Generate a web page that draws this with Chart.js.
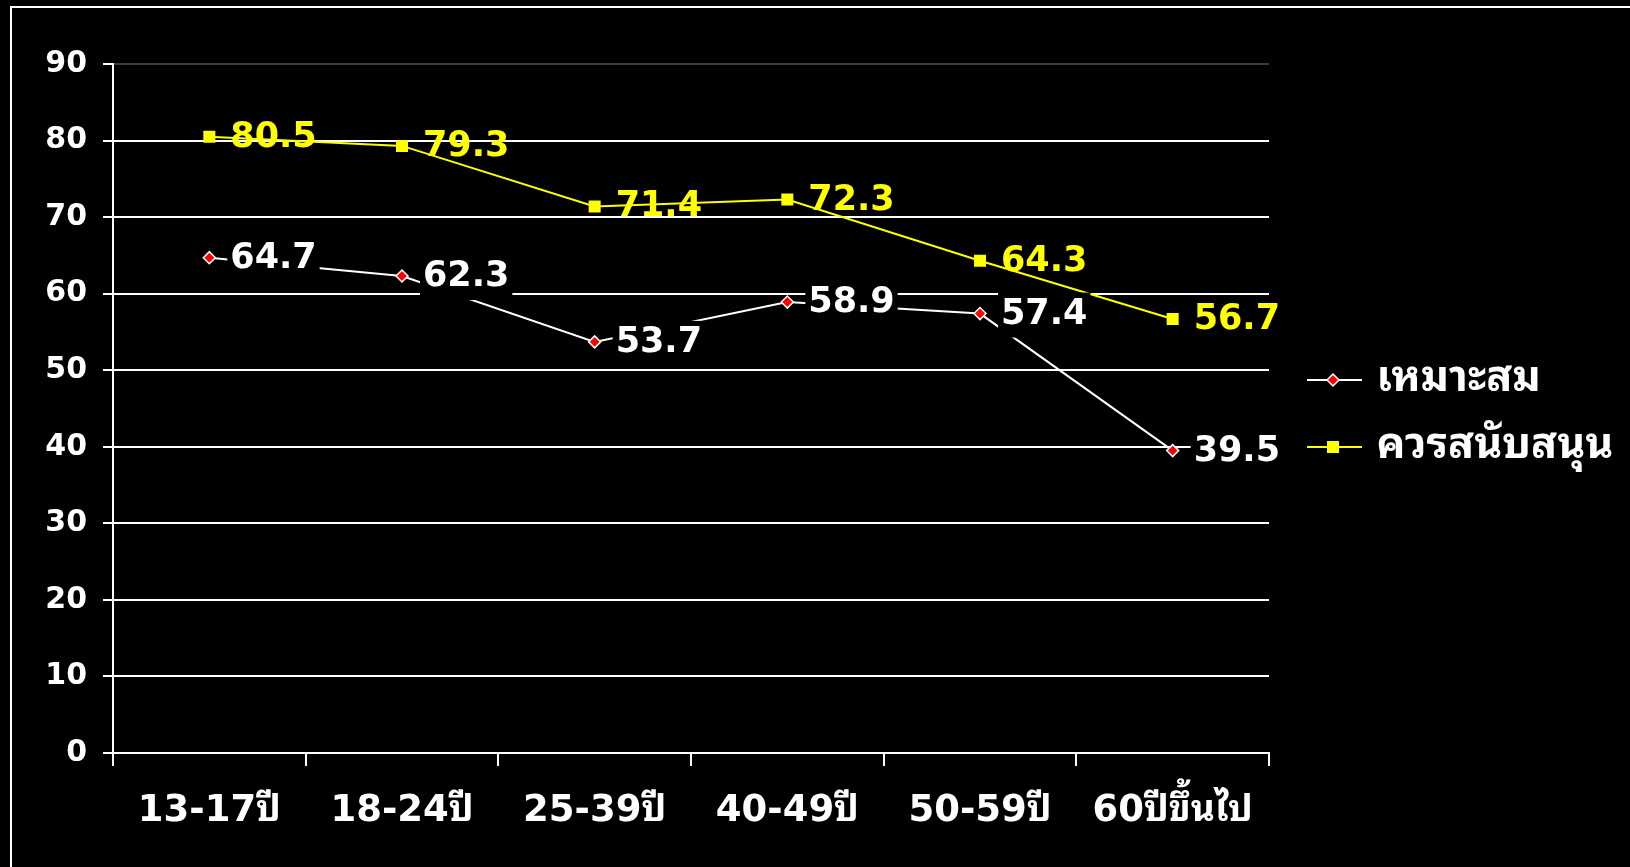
<!DOCTYPE html>
<html>
<head>
<meta charset="utf-8">
<script src="https://cdn.jsdelivr.net/npm/chart.js@4/dist/chart.umd.min.js"></script>
<style>
	html, body { margin: 0; padding: 0; background: #000; }
	#wrap { position: relative; width: 1630px; height: 867px; overflow: hidden; background: #000; }
	#frame { position: absolute; left: 10px; top: 6px; width: 1700px; height: 900px;
		border-top: 2px solid #fff; border-left: 2px solid #fff; pointer-events: none; }
</style>
</head>
<body>
<div id="wrap">
	<canvas id="myChart"></canvas>
	<div id="frame"></div>
</div>
<script>
const FONT = 'Tahoma, "DejaVu Sans", "Noto Sans Thai Looped", Loma, Garuda, Waree, Norasi, "Noto Sans Thai", sans-serif';

const categories = ["13-17ปี", "18-24ปี", "25-39ปี", "40-49ปี", "50-59ปี", "60ปีขึ้นไป"];
const seriesNames = ["เหมาะสม", "ควรสนับสนุน"];
const suitable = [64.7, 62.3, 53.7, 58.9, 57.4, 39.5];
const shouldSupport = [80.5, 79.3, 71.4, 72.3, 64.3, 56.7];
const yTicks = [0, 10, 20, 30, 40, 50, 60, 70, 80, 90];

const WHITE = "#ffffff";
const RED = "#ff0000";
const YELLOW = "#ffff00";
const LEGEND_W = 361;

// small canvas used as legend symbol: line with the marker in the middle
function legendSymbol(kind) {
	const c = document.createElement("canvas");
	c.width = 76;
	c.height = 16;
	const g = c.getContext("2d");
	g.lineWidth = 2;
	g.strokeStyle = kind === "diamond" ? WHITE : YELLOW;
	g.beginPath();
	g.moveTo(21, 8);
	g.lineTo(76, 8);
	g.stroke();
	if (kind === "diamond") {
		g.beginPath();
		g.moveTo(47, 2);
		g.lineTo(53, 8);
		g.lineTo(47, 14);
		g.lineTo(41, 8);
		g.closePath();
		g.fillStyle = RED;
		g.fill();
		g.lineWidth = 1.5;
		g.strokeStyle = WHITE;
		g.stroke();
	} else {
		g.fillStyle = YELLOW;
		g.fillRect(41, 2, 12, 12);
	}
	return c;
}

const labelBox = [true, false];

const valueLabels = {
	id: "valueLabels",
	beforeUpdate(chart) {
		const lg = chart.legend;
		if (lg && !lg._fixedWidth) {
			const fit = lg.fit.bind(lg);
			lg.fit = function () {
				fit();
				this.width = LEGEND_W;
			};
			lg._fixedWidth = true;
		}
	},
	afterDatasetsDraw(chart) {
		const ctx = chart.ctx;
		ctx.save();
		ctx.font = "bold 35px " + FONT;
		ctx.textBaseline = "middle";
		ctx.textAlign = "left";
		chart.data.datasets.forEach((ds, i) => {
			const meta = chart.getDatasetMeta(i);
			meta.data.forEach((pt, j) => {
				const txt = ds.data[j].toFixed(1);
				const x = pt.x + 21;
				const y = pt.y + 1;
				const w = ctx.measureText(txt).width;
				if (labelBox[i]) {
					ctx.fillStyle = "#000";
					ctx.fillRect(x - 3, y - 22, w + 6, 45);
				}
				ctx.fillStyle = ds.borderColor;
				ctx.fillText(txt, x, y);
			});
		});
		ctx.restore();
	},
};

Chart.defaults.font.family = FONT;
Chart.defaults.font.weight = "bold";
Chart.defaults.color = WHITE;

const ctx = document.getElementById("myChart");

new Chart(ctx, {
	type: "line",
	data: {
		labels: categories,
		datasets: [
			{
				label: seriesNames[0],
				data: suitable,
				borderColor: WHITE,
				borderWidth: 2,
				pointStyle: "rectRot",
				pointRadius: 6,
				pointBackgroundColor: RED,
				pointBorderColor: WHITE,
				pointBorderWidth: 1.5,
				tension: 0,
			},
			{
				label: seriesNames[1],
				data: shouldSupport,
				borderColor: YELLOW,
				borderWidth: 2,
				pointStyle: "rect",
				pointRadius: 8.5,
				pointBackgroundColor: YELLOW,
				pointBorderColor: YELLOW,
				pointBorderWidth: 0,
				tension: 0,
			},
		],
	},
	options: {
		responsive: true,
		maintainAspectRatio: false,
		animation: false,
		layout: {
			padding: { top: 64, bottom: 24, left: 0, right: 0 },
		},
		scales: {
			x: {
				offset: true,
				afterFit: (scale) => {
					scale.height = 90;
				},
				grid: {
					offset: true,
					drawOnChartArea: false,
					drawTicks: true,
					tickLength: 13,
					tickColor: WHITE,
					lineWidth: 2,
				},
				border: { color: WHITE, width: 2 },
				ticks: {
					color: WHITE,
					padding: 23,
					maxRotation: 0,
					autoSkip: false,
					font: { size: 37, weight: "bold" },
				},
			},
			y: {
				min: 0,
				max: 90,
				afterFit: (scale) => {
					scale.width = 113;
				},
				afterBuildTicks: (scale) => {
					scale.ticks = yTicks.map((v) => ({ value: v }));
				},
				grid: {
					color: (c) => (c.tick && c.tick.value === 90 ? "#3c3c3c" : WHITE),
					lineWidth: 2,
					tickLength: 10,
					tickColor: WHITE,
				},
				border: { color: WHITE, width: 2 },
				ticks: {
					color: WHITE,
					padding: 16,
					font: { size: 30, weight: "bold" },
				},
			},
		},
		plugins: {
			tooltip: { enabled: false },
			legend: {
				position: "right",
				align: "center",
				fullSize: false,
				title: {
					display: true,
					text: "",
					padding: 0,
					font: { size: 8, lineHeight: 1.25 },
				},
				labels: {
					usePointStyle: true,
					pointStyleWidth: 62,
					padding: 24,
					font: { size: 43, weight: "bold" },
					generateLabels: function (chart) {
						return chart.data.datasets.map((ds, i) => {
							return {
								text: ds.label,
								fillStyle: ds.borderColor,
								strokeStyle: ds.borderColor,
								fontColor: WHITE,
								lineWidth: 0,
								pointStyle: legendSymbol(i === 0 ? "diamond" : "square"),
								datasetIndex: i,
							};
						});
					},
				},
			},
		},
	},
	plugins: [valueLabels],
});
</script>
</body>
</html>
